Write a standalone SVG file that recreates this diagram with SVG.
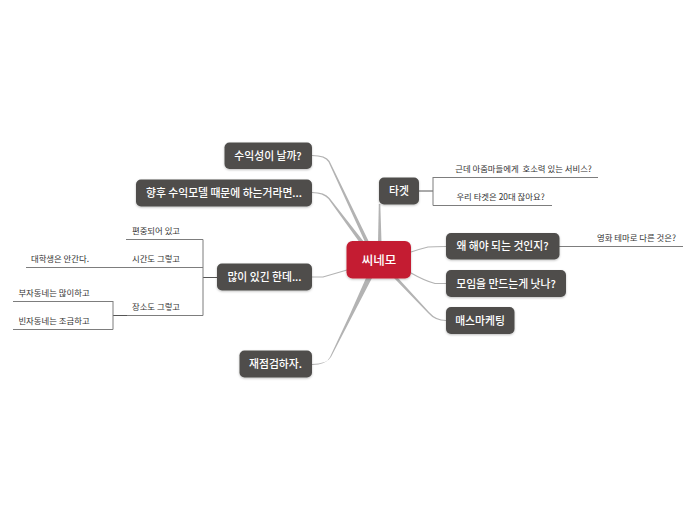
<svg xmlns="http://www.w3.org/2000/svg" width="697" height="520" viewBox="0 0 697 520">
<style>
text{font-family:"Noto Sans CJK KR","Noto Sans",sans-serif}
.n{fill:#4f4e4c;filter:url(#s)}
.t{fill:#fff;font-size:10.800px;font-weight:500;text-anchor:middle}
.l{fill:#333;font-size:8.400px;text-anchor:middle}
.c{fill:none;stroke:#b3b3b3;stroke-width:1.200}
.w{fill:#b3b3b3;stroke:none}
.b{fill:none;stroke:#7d7d7d;stroke-width:1}
.d{fill:none;stroke:#555;stroke-width:1}
</style>
<defs><filter id="s" x="-10%" y="-20%" width="120%" height="150%"><feDropShadow dx="0" dy="1" stdDeviation="1" flood-color="#000" flood-opacity=".25"/></filter></defs>
<rect width="697" height="520" fill="#fff"/>
<g id="connectors">
<path class="w" d="M378 242L381.500 242L380.300 204L378.800 204Z"/>
<path class="c" d="M411 252Q420 249 428 247Q434 246.500 446 246.500"/>
<path class="c" d="M411 273Q425 281 435 283.500L446 283.500"/>
<path class="w" d="M394 278L398 278L429 312Q436 320 446 320L446 321Q435 321 428 313Z"/>
<path class="w" d="M365 242L369 242L329.500 161Q326 155 312 155L312 156Q325 156 328.500 162Z"/>
<path class="w" d="M360 243L364 242L329.500 198Q325 192 312 192L312 193Q323 193 328.500 199Z"/>
<path class="c" d="M312 277L323 277Q330 275 347 270"/>
<path class="w" d="M366 278L372 278L331 357Q327 364 312 364L312 365Q326 365 330 357L350.500 313Z"/>
<path class="d" d="M419 191H433"/>
<path class="b" d="M433 177V205.500M433 177.500H598M433 205.500H552"/>
<path class="b" d="M559 246.500H683"/>
<path class="d" d="M203 277.500H217"/>
<path class="b" d="M203 239.500V315.500M126 239.500H203M26 267.500H203M126 315.500H203"/>
<path class="d" d="M113 315.500H127"/>
<path class="b" d="M113 301V329.500M13 301.500H113M13 329.500H113"/>
</g>
<g id="center"><rect x="346.500" y="241" width="64.500" height="37.500" rx="6" fill="#c41e33" filter="url(#s)"/><text class="t" x="379" y="264.500" style="font-size:12.500px">씨네모</text></g>
<g id="n-target"><rect class="n" x="379" y="177.500" width="40" height="27" rx="5"/><text class="t" x="399" y="195">타겟</text></g>
<g id="n-why"><rect class="n" x="446" y="233" width="113.500" height="26.500" rx="5"/><text class="t" x="502.500" y="250">왜 해야 되는 것인지?</text></g>
<g id="n-meet"><rect class="n" x="446" y="270" width="120" height="27" rx="5"/><text class="t" x="506" y="287.500">모임을 만드는게 낫나?</text></g>
<g id="n-mass"><rect class="n" x="446" y="307" width="68.500" height="27" rx="5"/><text class="t" x="480" y="324.500">매스마케팅</text></g>
<g id="n-profit"><rect class="n" x="224.500" y="142.500" width="87.500" height="26.500" rx="5"/><text class="t" x="268" y="159.500">수익성이 날까?</text></g>
<g id="n-model"><rect class="n" x="136" y="179.500" width="176" height="27" rx="5"/><text class="t" x="224" y="196.500">향후 수익모델 때문에 하는거라면...</text></g>
<g id="n-many"><rect class="n" x="217" y="263.500" width="95" height="27" rx="5"/><text class="t" x="264.500" y="281">많이 있긴 한데...</text></g>
<g id="n-recheck"><rect class="n" x="239.500" y="350.500" width="72.500" height="27" rx="5"/><text class="t" x="275.500" y="368">재점검하자.</text></g>
<g id="labels">
<text class="l" x="523.500" y="171.500" xml:space="preserve">근데 아줌마들에게  호소력 있는 서비스?</text>
<text class="l" x="500.500" y="199.500">우리 타겟은 20대 잖아요?</text>
<text class="l" x="636.500" y="241">영화 테마로 다른 것은?</text>
<text class="l" x="156" y="233.500">편중되어 있고</text>
<text class="l" x="156" y="261.500">시간도 그렇고</text>
<text class="l" x="60" y="261.500">대학생은 안간다.</text>
<text class="l" x="156" y="309.500">장소도 그렇고</text>
<text class="l" x="54" y="295.500">부자동네는 많이하고</text>
<text class="l" x="54" y="323.500">빈자동네는 조금하고</text>
</g>
</svg>
